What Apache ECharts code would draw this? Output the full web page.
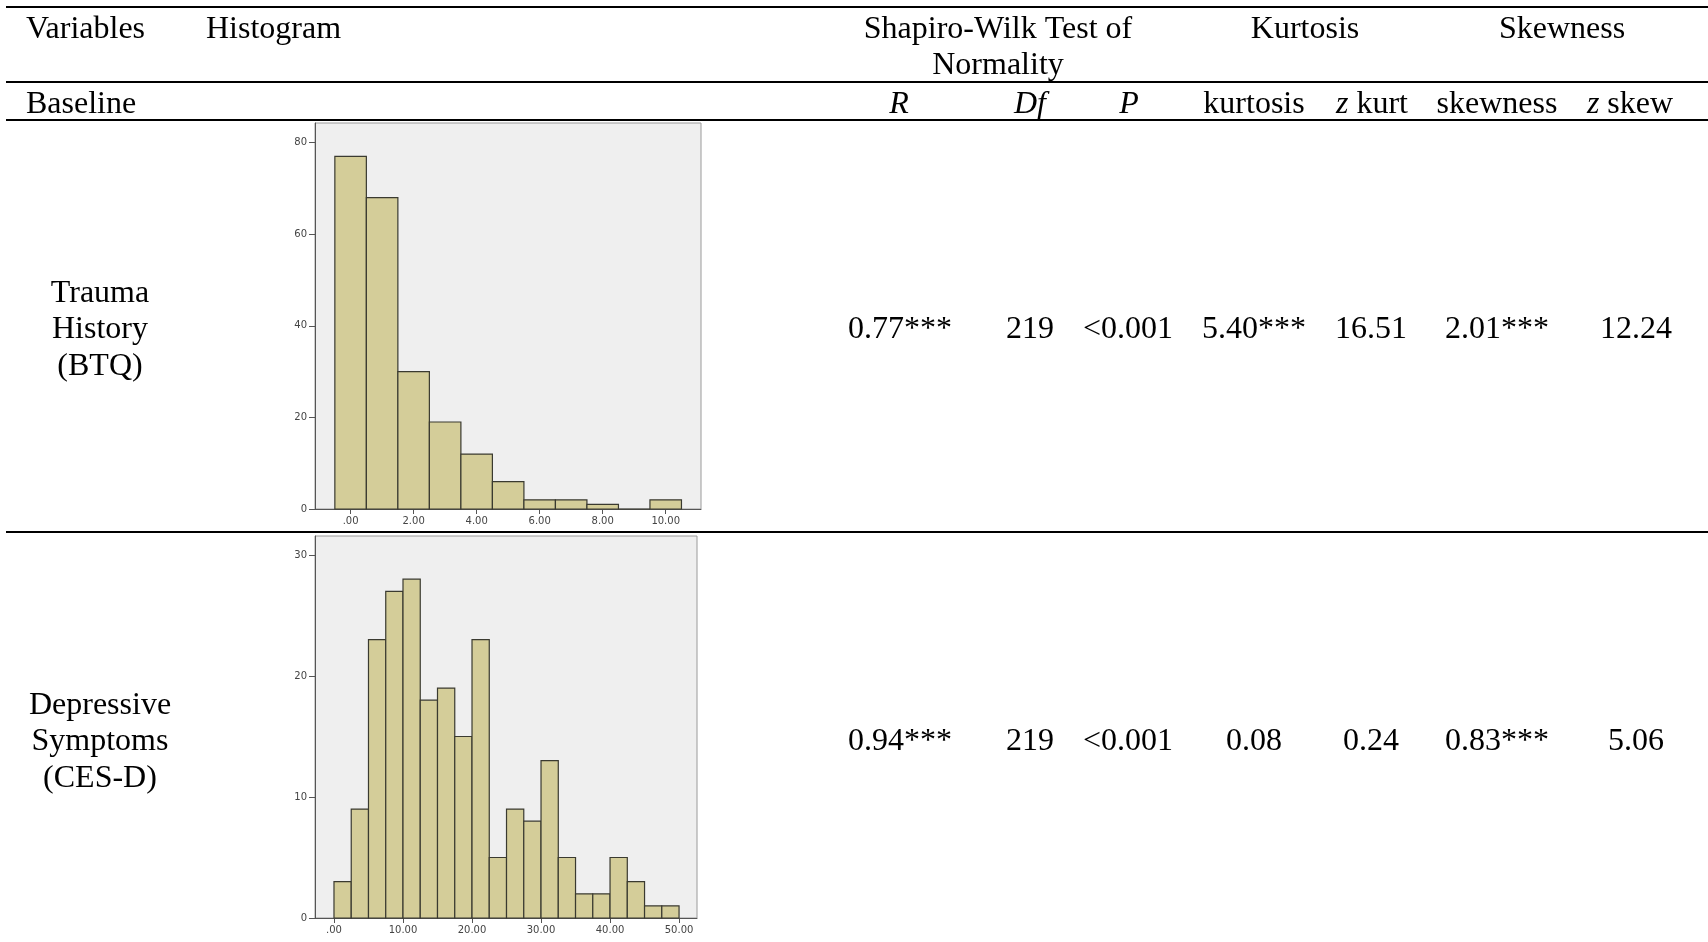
<!DOCTYPE html>
<html>
<head>
<meta charset="utf-8">
<script src="https://cdn.jsdelivr.net/npm/echarts@6/dist/echarts.min.js"></script>
<style>
html,body{margin:0;padding:0;background:#fff;}
#chart{width:1708px;height:942px;}
</style>
</head>
<body>
<div id="chart"></div>
<script>
// ---- Data ----
// Trauma History (BTQ) histogram: bin lower edges and counts (bin width 1)
const btqBinStart = [-0.5, 0.5, 1.5, 2.5, 3.5, 4.5, 5.5, 6.5, 7.5, 8.5, 9.5];
const btqCounts   = [77, 68, 30, 19, 12, 6, 2, 2, 1, 0, 2];
const btqBinWidth = 1;
const btqXTicks = [0, 2, 4, 6, 8, 10];
const btqXLabels = ['.00', '2.00', '4.00', '6.00', '8.00', '10.00'];
const btqYTicks = [0, 20, 40, 60, 80];

// Depressive Symptoms (CES-D) histogram: bin lower edges and counts (bin width 2.5)
const cesdBinStart = [0, 2.5, 5, 7.5, 10, 12.5, 15, 17.5, 20, 22.5, 25, 27.5, 30, 32.5, 35, 37.5, 40, 42.5, 45, 47.5];
const cesdCounts   = [3, 9, 23, 27, 28, 18, 19, 15, 23, 5, 9, 8, 13, 5, 2, 2, 5, 3, 1, 1];
const cesdBinWidth = 2.5;
const cesdXTicks = [0, 10, 20, 30, 40, 50];
const cesdXLabels = ['.00', '10.00', '20.00', '30.00', '40.00', '50.00'];
const cesdYTicks = [0, 10, 20, 30];

// Table text
const headerTop = ['Variables', 'Histogram'];
const groupHeaders = ['Shapiro-Wilk Test of', 'Normality', 'Kurtosis', 'Skewness'];
const subHeaders = ['R', 'Df', 'P', 'kurtosis', 'z kurt', 'skewness', 'z skew'];
const rowLabels = [['Trauma', 'History', '(BTQ)'], ['Depressive', 'Symptoms', '(CES-D)']];
const rowValues = [
  ['0.77***', '219', '<0.001', '5.40***', '16.51', '2.01***', '12.24'],
  ['0.94***', '219', '<0.001', '0.08', '0.24', '0.83***', '5.06']
];

// ---- Chart ----
const chart = echarts.init(document.getElementById('chart'), null, {renderer: 'canvas'});
const SERIF = '"Liberation Serif", "Times New Roman", serif';
const F = '32px ' + SERIF;
const FI = 'italic 32px ' + SERIF;
const barFill = '#d4cd99';
const barStroke = '#3a3a30';

function makeData(starts, counts, w) {
  return starts.map((s, i) => [s, s + w, counts[i]]);
}
function renderBar(params, api) {
  const lo = api.value(0), hi = api.value(1), c = api.value(2);
  const p0 = api.coord([lo, c]);
  const p1 = api.coord([hi, 0]);
  return {
    type: 'rect',
    shape: {x: p0[0], y: p0[1], width: p1[0] - p0[0], height: p1[1] - p0[1]},
    style: {fill: barFill, stroke: barStroke, lineWidth: 1.2}
  };
}
function xAxisFor(idx, min, max, ticks, labels) {
  return {
    type: 'value', gridIndex: idx, min: min, max: max,
    axisLine: {show: true, onZero: false, lineStyle: {color: '#555', width: 1}},
    axisTick: {show: true, length: 5, customValues: ticks, lineStyle: {color: '#555'}},
    axisLabel: {customValues: ticks, margin: 7, fontSize: 10, color: '#444',
      fontFamily: '"DejaVu Sans", Verdana, sans-serif',
      formatter: v => labels[ticks.indexOf(v)] ?? ''},
    splitLine: {show: false}
  };
}
function yAxisFor(idx, max, ticks) {
  return {
    type: 'value', gridIndex: idx, min: 0, max: max,
    axisLine: {show: true, onZero: false, lineStyle: {color: '#555', width: 1}},
    axisTick: {show: true, length: 6, customValues: ticks, lineStyle: {color: '#555'}},
    axisLabel: {customValues: ticks, margin: 8, fontSize: 10, color: '#444',
      fontFamily: '"DejaVu Sans", Verdana, sans-serif'},
    splitLine: {show: false}
  };
}

// Graphic texts and rules
const g = [];
const DY = 3;
function txt(text, x, y, align, font) {
  g.push({type: 'text', x: x, y: y + DY, style: {text: text, font: font || F, fill: '#000',
    textAlign: align || 'center', textVerticalAlign: 'middle'}});
}
function richTxt(text, x, y) {
  g.push({type: 'text', x: x, y: y + DY, style: {text: text, font: F, fill: '#000',
    textAlign: 'center', textVerticalAlign: 'middle',
    rich: {i: {font: FI, fill: '#000'}, n: {font: F, fill: '#000'}}}});
}
function rule(y, w) {
  g.push({type: 'line', shape: {x1: 6, y1: y, x2: 1708, y2: y}, style: {stroke: '#000', lineWidth: w || 2}});
}
rule(7, 2); rule(82, 2); rule(120, 2); rule(532, 2);

txt(headerTop[0], 26, 27, 'left');
txt(headerTop[1], 206, 27, 'left');
txt(groupHeaders[0], 998, 27);
txt(groupHeaders[1], 998, 63);
txt(groupHeaders[2], 1305, 27);
txt(groupHeaders[3], 1562, 27);
txt('Baseline', 26, 102, 'left');

const colX = [899, 1030, 1129, 1254, 1372, 1497, 1630];
txt(subHeaders[0], colX[0], 102, 'center', FI);
txt(subHeaders[1], colX[1], 102, 'center', FI);
txt(subHeaders[2], colX[2], 102, 'center', FI);
txt(subHeaders[3], colX[3], 102);
richTxt('{i|z}{n| kurt}', colX[4], 102);
txt(subHeaders[5], colX[5], 102);
richTxt('{i|z}{n| skew}', colX[6], 102);

const rowY = [327, 739];
const valX = [900, 1030, 1128, 1254, 1371, 1497, 1636];
rowLabels.forEach((lines, r) => {
  lines.forEach((l, k) => txt(l, 100, rowY[r] + (k - 1) * 36.5));
  rowValues[r].forEach((v, c) => txt(v, valX[c], rowY[r]));
});

chart.setOption({
  animation: false,
  backgroundColor: '#ffffff',
  grid: [
    {left: 315, top: 123, right: 1007, bottom: 433, show: true, backgroundColor: '#efefef', borderColor: '#9a9a9a', borderWidth: 1},
    {left: 315, top: 536, right: 1011, bottom: 24, show: true, backgroundColor: '#efefef', borderColor: '#9a9a9a', borderWidth: 1}
  ],
  xAxis: [
    xAxisFor(0, -1.13, 11.12, btqXTicks, btqXLabels),
    xAxisFor(1, -2.75, 52.6, cesdXTicks, cesdXLabels)
  ],
  yAxis: [
    yAxisFor(0, 84.3, btqYTicks),
    yAxisFor(1, 31.57, cesdYTicks)
  ],
  series: [
    {type: 'custom', xAxisIndex: 0, yAxisIndex: 0, renderItem: renderBar,
     encode: {x: [0, 1], y: 2}, data: makeData(btqBinStart, btqCounts, btqBinWidth)},
    {type: 'custom', xAxisIndex: 1, yAxisIndex: 1, renderItem: renderBar,
     encode: {x: [0, 1], y: 2}, data: makeData(cesdBinStart, cesdCounts, cesdBinWidth)}
  ],
  graphic: g
});
</script>
</body>
</html>
